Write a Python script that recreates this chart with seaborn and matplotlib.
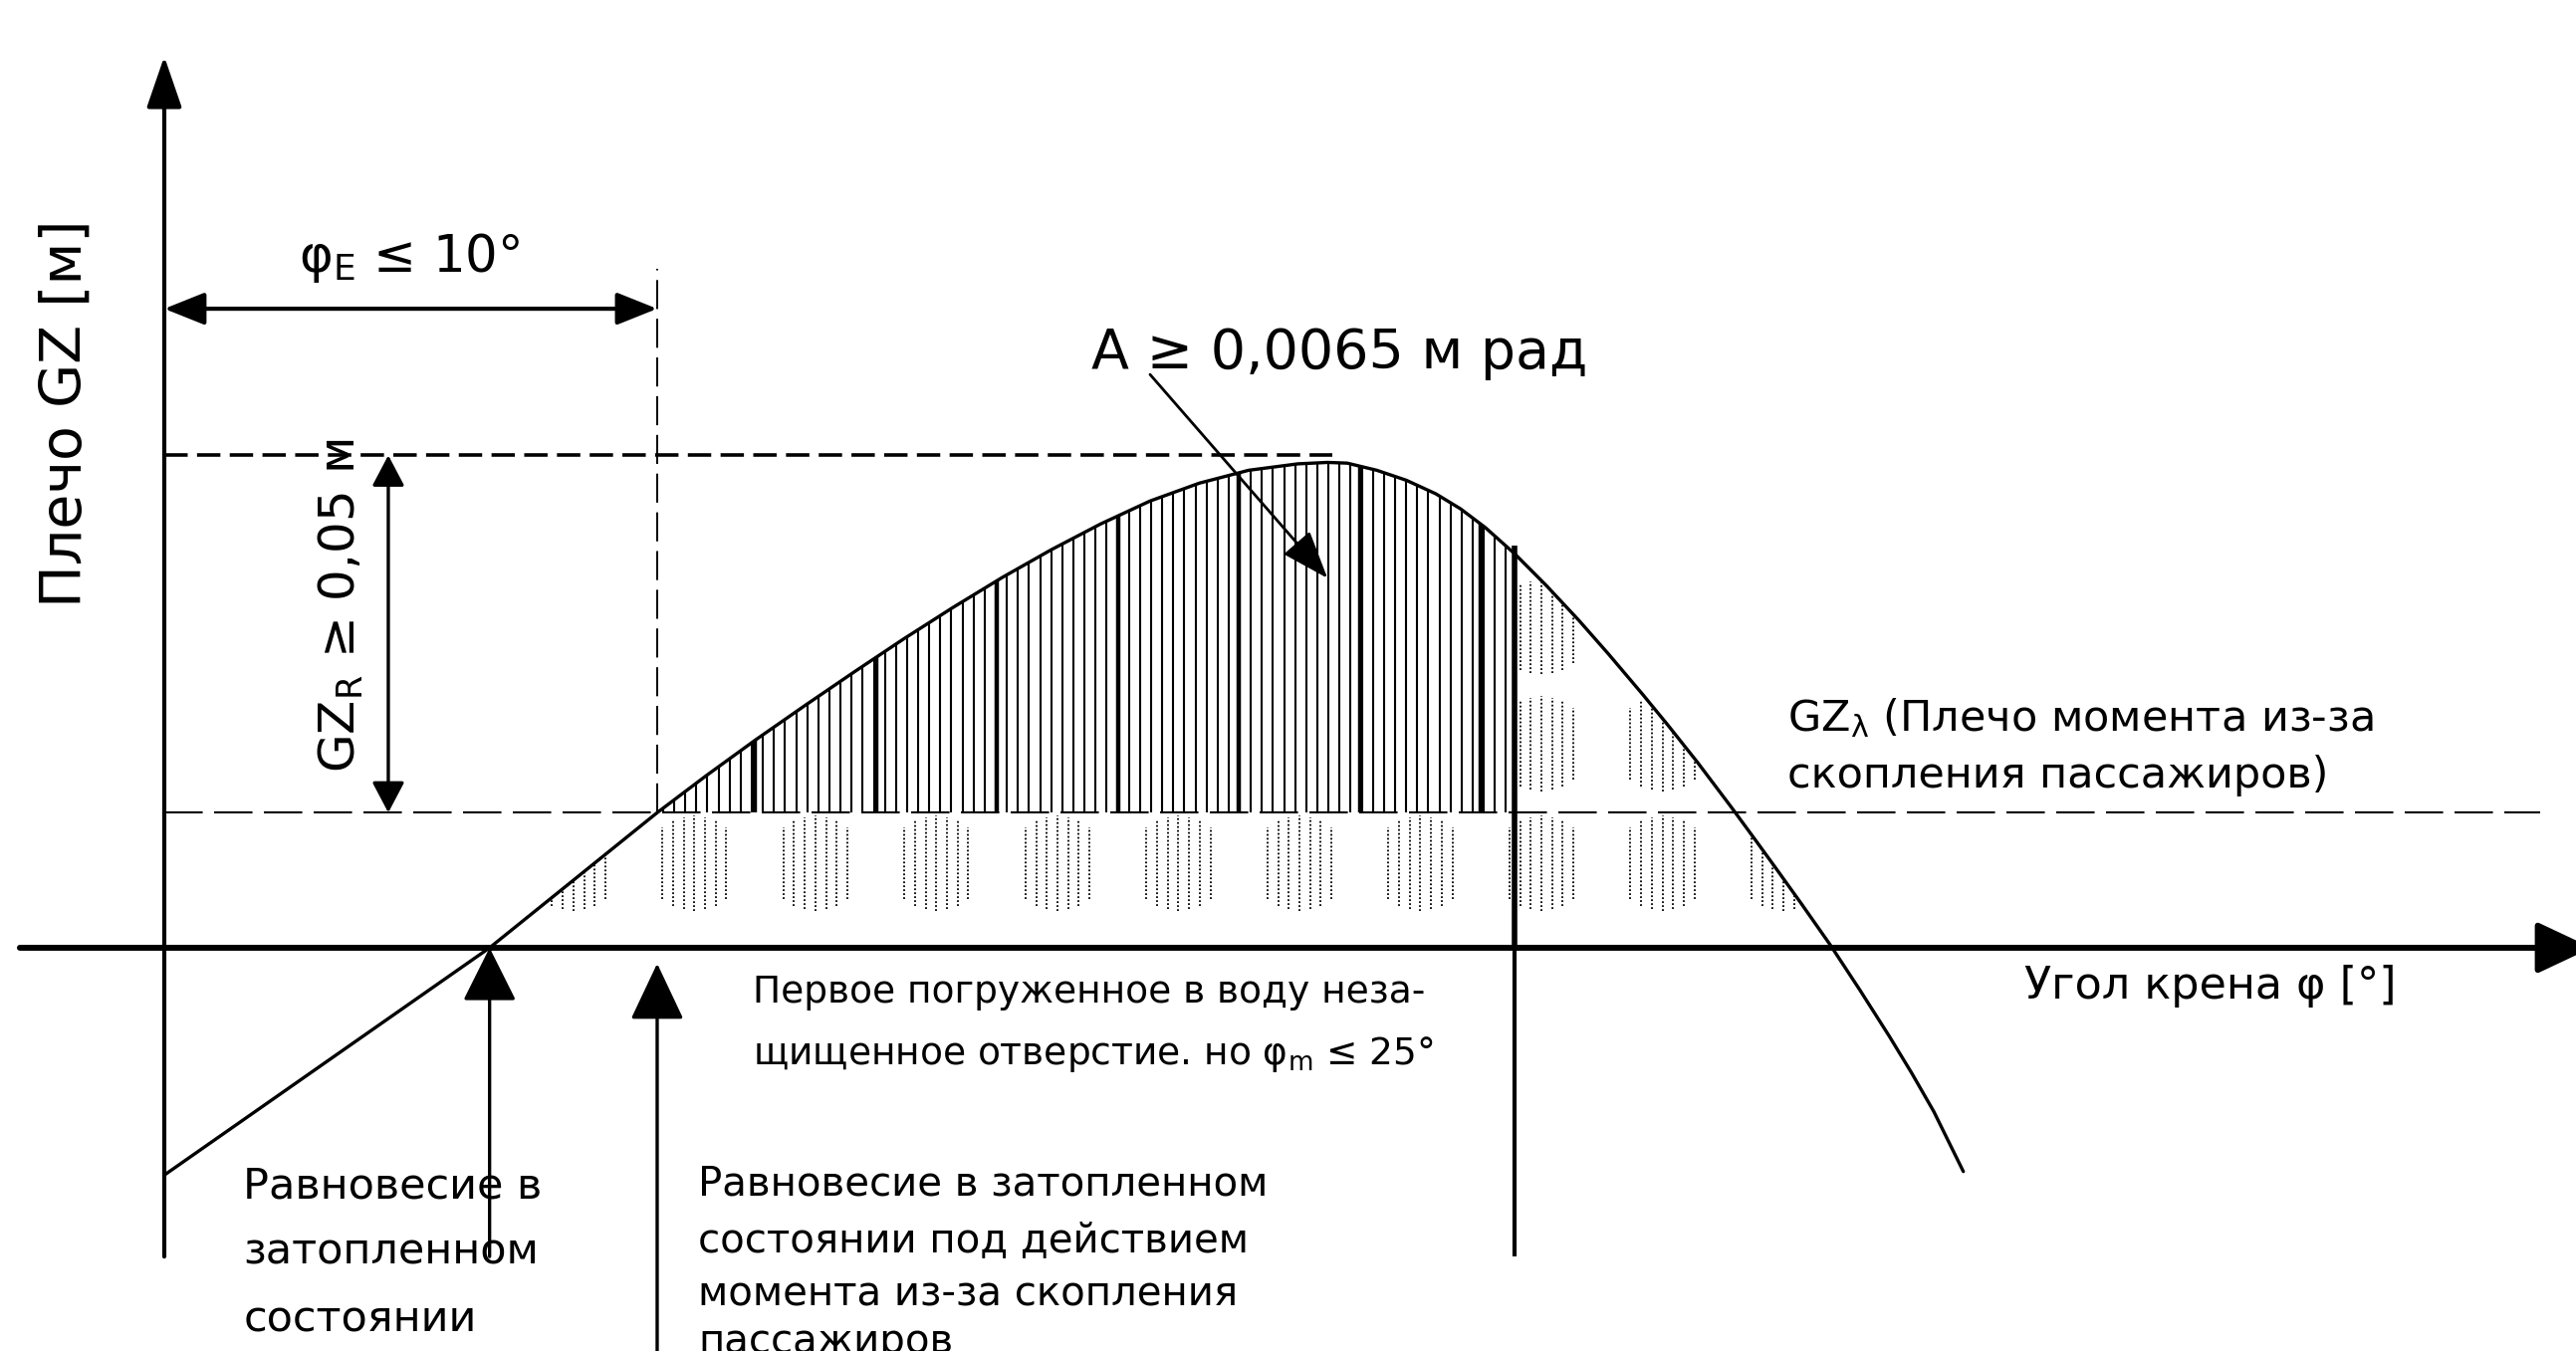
import numpy as np
import matplotlib
matplotlib.use("Agg")
import matplotlib.pyplot as plt
from matplotlib.patches import Polygon, ArrowStyle
import pandas as pd
import seaborn as sns

# Righting lever curve in the flooded condition (heel angle, GZ)
angle_deg = [0.0, 6.6, 10.0, 11.0, 12.0, 13.0, 14.0, 15.0, 16.0, 17.0, 18.0,
             19.0, 20.0, 21.0, 22.0, 23.0, 23.6, 24.0, 24.6, 25.2, 25.8, 26.3,
             26.8, 27.4, 28.05, 28.7, 29.3, 30.0, 30.5, 31.1, 31.8, 32.3, 32.7,
             33.2, 33.8, 34.4, 35.0, 35.45, 35.9, 36.5]
gz_m = [-0.0318, 0.0, 0.0189, 0.0241, 0.0291, 0.0339, 0.0386, 0.0432, 0.0476,
        0.0518, 0.0557, 0.0593, 0.0625, 0.0650, 0.0668, 0.0677, 0.0679, 0.0678,
        0.0668, 0.0654, 0.0635, 0.0614, 0.0588, 0.0551, 0.0506, 0.0458, 0.0411,
        0.0354, 0.0312, 0.0260, 0.0196, 0.0149, 0.0111, 0.0063, 0.0004, -0.0059,
        -0.0124, -0.0175, -0.0229, -0.0313]

gz_lambda = 0.0189      # heeling lever from passenger crowding
gz_r_min = 0.05         # required residual lever
phi_eq = 6.6            # equilibrium in the flooded condition
phi_e_max = 10.0        # equilibrium under the crowding moment
phi_flood = 27.4        # first unprotected opening immersed

sns.set_theme(style="white")
plt.rcParams["font.family"] = ["DejaVu Sans"]
plt.rcParams["mathtext.default"] = "regular"

fig = plt.figure(figsize=(25.87, 13.57), dpi=100)
ax = fig.add_axes([0, 0, 1, 1])
ax.set_xlim(-3.333, 48.93)
ax.set_ylim(-0.05641, 0.13259)
ax.axis("off")

K = "black"


def arrow(tail, tip, lw, hl, hw, style="-|>"):
    ax.annotate("", xy=tip, xytext=tail, annotation_clip=False,
                arrowprops=dict(arrowstyle=ArrowStyle(style, head_length=hl, head_width=hw),
                                mutation_scale=1, lw=lw, color=K,
                                shrinkA=0, shrinkB=0))


# axes of the diagram
arrow((0, -0.0432), (0, 0.1247), 3.0, 32, 11)
arrow((-2.93, 0), (49.25, 0), 4.3, 34, 16)

# curve
df = pd.DataFrame({"angle": angle_deg, "gz": gz_m})
sns.lineplot(data=df, x="angle", y="gz", ax=ax, color=K, lw=2.4, sort=False,
             estimator=None)

# heeling lever line and the residual-lever level
ax.plot([0, 48.2], [gz_lambda, gz_lambda], color=K, lw=1.5,
        linestyle=(0, (18.5, 5.5)))
ax.plot([0, 23.7], [gz_lambda + gz_r_min] * 2, color=K, lw=2.6,
        linestyle=(0, (6.5, 2.6)))
ax.plot([phi_e_max, phi_e_max], [gz_lambda, 0.095], color=K, lw=1.4,
        linestyle=(0, (15, 5)))

# hatched residual area between the curve and GZ_lambda
xs = np.linspace(phi_e_max, phi_flood, 400)
ys = np.interp(xs, angle_deg, gz_m)
verts = [(phi_e_max, gz_lambda)] + list(zip(xs, ys)) + [(phi_flood, gz_lambda)]
clip_area = Polygon(verts, closed=True, transform=ax.transData, fc="none", ec="none")
ax.add_patch(clip_area)
hx = np.arange(phi_e_max + 0.12, phi_flood, 0.225)
thin = ax.vlines(hx, gz_lambda, 0.08, colors=K, lw=1.5)
thin.set_clip_path(clip_area)
pitch = 2.455
centres = 8.3 + pitch * np.arange(11)
tx = centres + pitch / 2
tx = tx[(tx > phi_e_max) & (tx < phi_flood)]
thick = ax.vlines(tx, gz_lambda, 0.08, colors=K, lw=3.2)
thick.set_clip_path(clip_area)

# dotted passenger groups under the curve
xs2 = np.linspace(phi_eq, 33.9, 600)
ys2 = np.interp(xs2, angle_deg, gz_m)
verts2 = [(phi_eq, 0)] + list(zip(xs2, ys2)) + [(33.9, 0)]
clip_under = Polygon(verts2, closed=True, transform=ax.transData, fc="none", ec="none")
ax.add_patch(clip_under)
rows = [0.01184, 0.02855, 0.04485]
a_deg, b_m = 1.01, 0.00662
offs = np.arange(-3, 4) * 0.216
for r, cy in enumerate(rows):
    for cx in centres:
        for d in offs:
            x = cx + d
            if r > 0 and x < phi_flood + 0.1:
                continue
            h = b_m * np.sqrt(1 - (d / a_deg) ** 2)
            ln, = ax.plot([x, x], [cy - h, cy + h], color=K, lw=1.3,
                          linestyle=(0, (1, 1.2)))
            ln.set_clip_path(clip_under)

# flooding angle line
ax.plot([phi_flood, phi_flood], [0, 0.0563], color=K, lw=4.0, solid_capstyle="butt")
ax.plot([phi_flood, phi_flood], [-0.0432, 0], color=K, lw=3.0, solid_capstyle="butt")

# dimension arrows
arrow((phi_e_max, 0.0894), (0, 0.0894), 3.0, 25, 10, "<|-|>")
arrow((4.545, gz_lambda + gz_r_min), (4.545, gz_lambda), 2.4, 19, 10, "<|-|>")

# equilibrium markers
arrow((phi_eq, -0.0432), (phi_eq, 0.0), 2.4, 34, 17)
arrow((phi_e_max, -0.0564), (phi_e_max, -0.0022), 2.4, 36, 17)

# area annotation
arrow((20.0, 0.0802), (23.6, 0.0517), 2.0, 30, 11)

# labels
ax.text(-2.0, 0.0748, "Плечо GZ [м]", rotation=90, ha="center", va="center",
        fontsize=41, color=K)
ax.text(4.97, 0.0965, "φ$_{E}$ ≤ 10°", ha="center", va="center", fontsize=37, color=K)
ax.text(3.58, 0.0479, "GZ$_{R}$ ≥ 0,05 м", rotation=90, ha="center", va="center",
        fontsize=36, color=K)
ax.text(18.81, 0.0831, "A ≥ 0,0065 м рад", ha="left", va="center", fontsize=40, color=K)
ax.text(32.93, 0.0322, "GZ$_{λ}$ (Плечо момента из-за", ha="left", va="center",
        fontsize=31, color=K)
ax.text(32.93, 0.0241, "скопления пассажиров)", ha="left", va="center",
        fontsize=31, color=K)
ax.text(37.74, -0.0053, "Угол крена φ [°]", ha="left", va="center", fontsize=32, color=K)
ax.text(11.94, -0.0063, "Первое погруженное в воду неза-", ha="left", va="center",
        fontsize=27, color=K)
ax.text(11.94, -0.0149, "щищенное отверстие. но φ$_{m}$ ≤ 25°", ha="left", va="center",
        fontsize=27, color=K)
for y, s in zip([-0.0333, -0.0425, -0.0520], ["Равновесие в", "затопленном", "состоянии"]):
    ax.text(1.6, y, s, ha="left", va="center", fontsize=31, color=K)
for y, s in zip([-0.0331, -0.0409, -0.0485, -0.0551],
                ["Равновесие в затопленном", "состоянии под действием",
                 "момента из-за скопления", "пассажиров"]):
    ax.text(10.83, y, s, ha="left", va="center", fontsize=29, color=K)

fig.savefig("out.png", dpi=100, facecolor="white")
